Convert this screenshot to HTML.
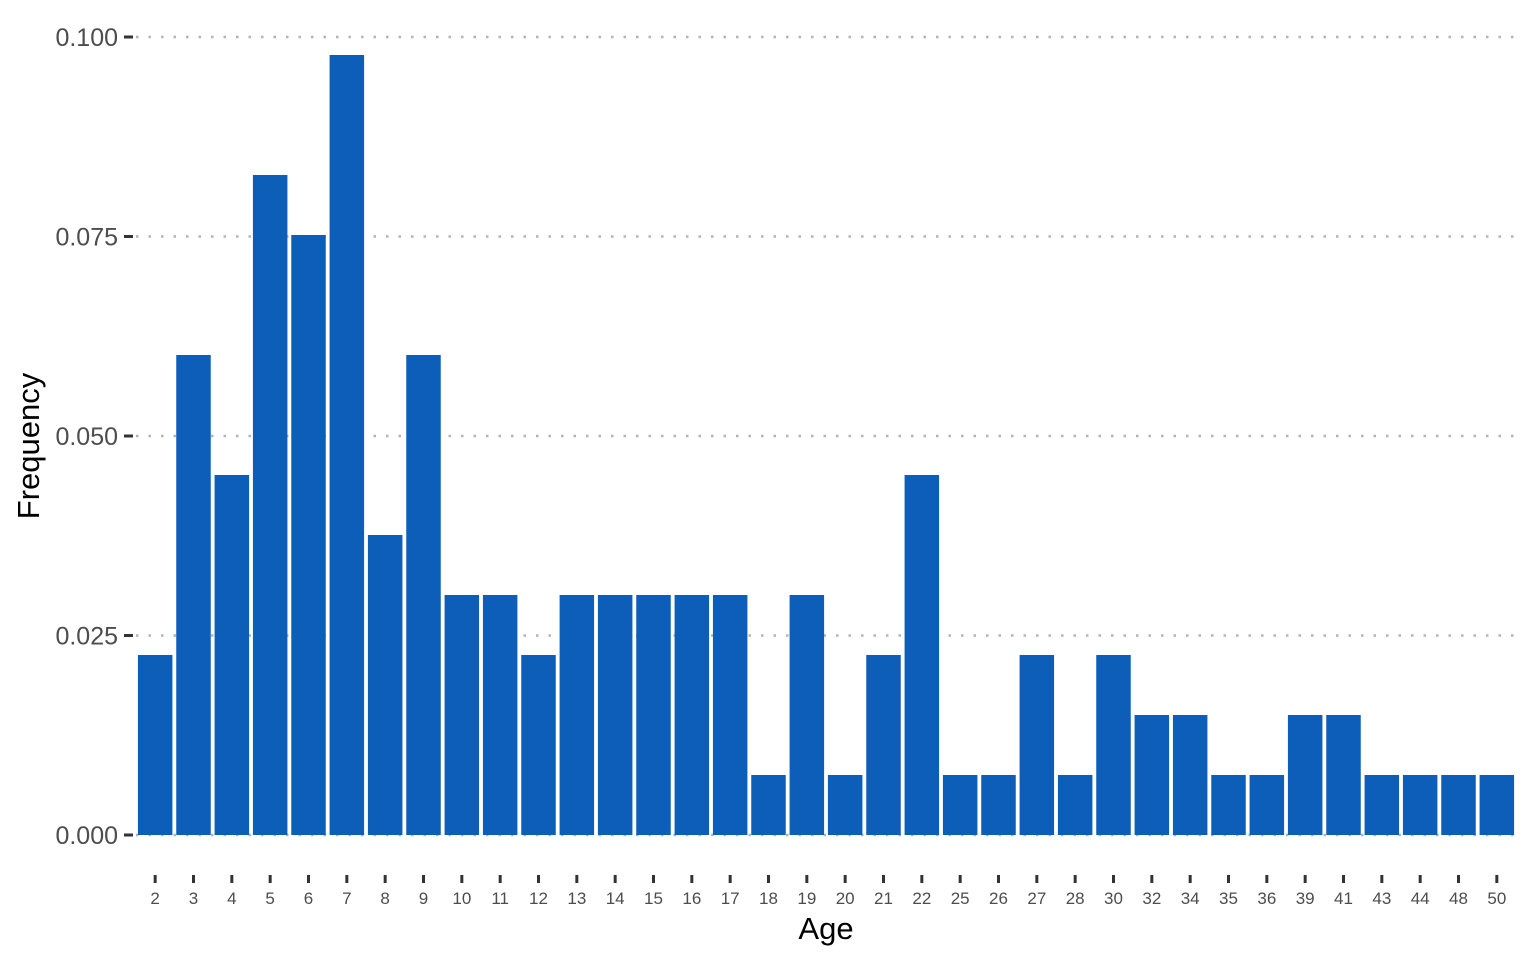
<!DOCTYPE html>
<html><head><meta charset="utf-8"><style>
body{margin:0;background:#fff;}
svg{display:block;font-family:"Liberation Sans",Arial,sans-serif;}
</style></head><body>
<svg id="chart" width="1536" height="960" viewBox="0 0 1536 960" xmlns="http://www.w3.org/2000/svg">
<g id="grid"></g>
<g id="bars"></g>
<g id="yaxis"></g>
<g id="xaxis"></g>
<text transform="translate(39,446) rotate(-90)" text-anchor="middle" font-size="31" fill="#000">Frequency</text>
<text x="826" y="939" text-anchor="middle" font-size="31" fill="#000">Age</text>
</svg>
<script>
const categories=["2","3","4","5","6","7","8","9","10","11","12","13","14","15","16","17","18","19","20","21","22","25","26","27","28","30","32","34","35","36","39","41","43","44","48","50"];
const counts=[3,8,6,11,10,13,5,8,4,4,3,4,4,4,4,4,1,4,1,3,6,1,1,3,1,3,2,2,1,1,2,2,1,1,1,1];
const total=133;
const yTicks=[0,0.025,0.05,0.075,0.1];
const yTickLabels=["0.000","0.025","0.050","0.075","0.100"];

const NS="http://www.w3.org/2000/svg";
const left=136,right=1516,y0=835,y1=37;
const band=(right-left)/categories.length;
function xs(i){return left+i*band;}
function ys(v){return y0-(v/0.1)*(y0-y1);}
function mk(tag,attrs,parent){const e=document.createElementNS(NS,tag);for(const k in attrs)e.setAttribute(k,attrs[k]);parent.appendChild(e);return e;}
const grid=document.getElementById('grid'),bars=document.getElementById('bars'),ya=document.getElementById('yaxis'),xa=document.getElementById('xaxis');
yTicks.forEach((t,i)=>{
  const y=ys(t);
  const g=mk('line',{x1:left,x2:right,y1:y,y2:y,stroke:'#b3b3b3','stroke-width':2.5,'stroke-dasharray':'2.5 10'},grid);
  
  
  const tk=mk('line',{x1:124,x2:133,y1:y,y2:y,stroke:'#333','stroke-width':3},ya);
  
  
  const tx=mk('text',{x:118,y:y+9,'text-anchor':'end','font-size':25,fill:'#4d4d4d'},ya);
  tx.textContent=yTickLabels[i];
  
  
});
categories.forEach((c,i)=>{
  const v=counts[i]/total;
  const w=band*0.9,x=xs(i)+band*0.05;
  const r=mk('rect',{x:x,y:ys(v),width:w,height:y0-ys(v),fill:'#0d5eb8'},bars);
  
  
  const cx=xs(i)+band/2;
  const tk=mk('line',{x1:cx,x2:cx,y1:875,y2:883,stroke:'#333','stroke-width':3},xa);
  
  
  const tx=mk('text',{x:cx,y:904,'text-anchor':'middle','font-size':17,fill:'#4d4d4d'},xa);
  tx.textContent=c;
  
  
});
</script>
</body></html>
